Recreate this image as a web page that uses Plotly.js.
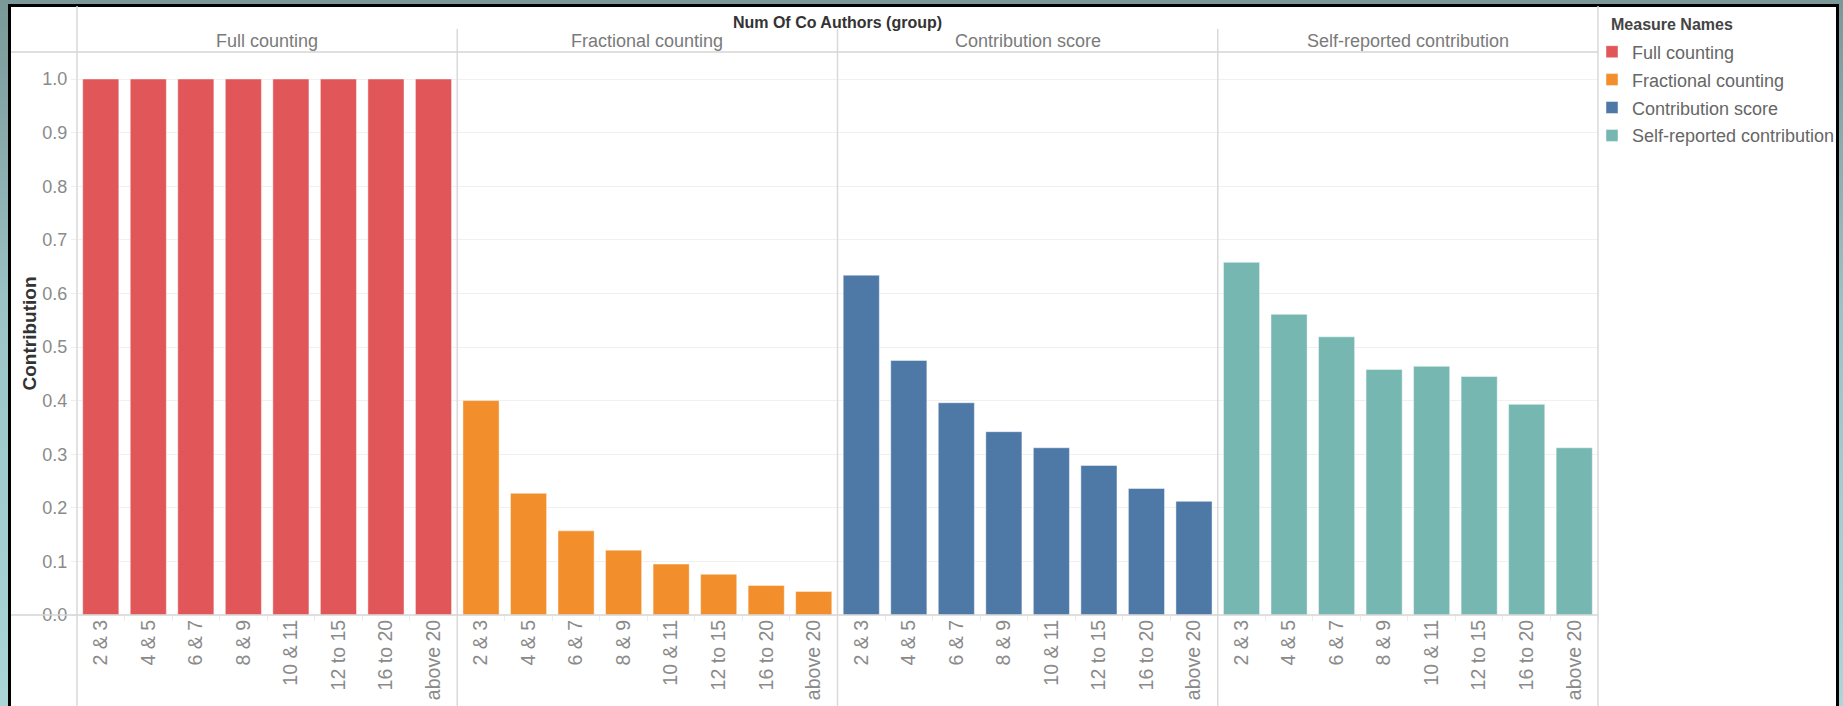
<!DOCTYPE html>
<html>
<head>
<meta charset="utf-8">
<script src="https://cdn.plot.ly/plotly-3.0.1.min.js"></script>
<style>
  html, body { margin: 0; padding: 0; }
  body {
    width: 1843px; height: 706px; overflow: hidden; position: relative;
    background: linear-gradient(to bottom, #7a9898 0%, #9cc4c6 45%, #aad6d8 100%);
  }
  #frame {
    position: absolute; left: 8px; top: 4px; width: 1831px; height: 740px;
    box-sizing: border-box; border: 3px solid #000; background: #fff;
  }
  #chart { position: absolute; left: 0; top: 0; width: 1843px; height: 706px; }
</style>
</head>
<body>
<div id="frame"></div>
<div id="chart"></div>
<script>
// Co-author group buckets shared by every panel
const groups = ['2 & 3', '4 & 5', '6 & 7', '8 & 9', '10 & 11', '12 to 15', '16 to 20', 'above 20'];

// Average credit per author under each counting method
const fullCounting       = [1.0, 1.0, 1.0, 1.0, 1.0, 1.0, 1.0, 1.0];
const fractionalCounting = [0.400, 0.227, 0.157, 0.121, 0.095, 0.076, 0.055, 0.044];
const contributionScore  = [0.634, 0.475, 0.396, 0.342, 0.312, 0.279, 0.236, 0.212];
const selfReported       = [0.658, 0.561, 0.519, 0.458, 0.464, 0.445, 0.393, 0.312];

const measureNames  = ['Full counting', 'Fractional counting', 'Contribution score', 'Self-reported contribution'];
const measureValues = [fullCounting, fractionalCounting, contributionScore, selfReported];
const measureColors = ['#e15759', '#f28e2b', '#4e79a7', '#76b7b2'];
const yTicks = [0.0, 0.1, 0.2, 0.3, 0.4, 0.5, 0.6, 0.7, 0.8, 0.9, 1.0];

const FONT = '"Liberation Sans", Arial, sans-serif';
const axisIds = ['x', 'x2', 'x3', 'x4'];

// plot-area geometry in pixels
const ML = 77, MR = 245, MT = 52, MB = 91.4, W = 1843, H = 706;
const pxW = W - ML - MR;
const pxH = H - MT - MB;
const px2x = p => (p - ML) / pxW;
const px2y = p => (H - MB - p) / pxH;

const traces = measureNames.map((name, i) => ({
  type: 'bar',
  name: name,
  legendgroup: 'g' + i,
  x: groups,
  y: measureValues[i],
  xaxis: axisIds[i],
  yaxis: 'y',
  marker: { color: measureColors[i], line: { color: 'rgba(255,255,255,0.45)', width: 1 } },
  hoverinfo: 'skip'
}));

const layout = {
  width: W,
  height: H,
  margin: { l: ML, r: MR, t: MT, b: MB, autoexpand: false },
  paper_bgcolor: 'rgba(0,0,0,0)',
  plot_bgcolor: 'rgba(0,0,0,0)',
  font: { family: FONT, color: '#777' },
  bargap: 0.24,
  showlegend: true,
  hovermode: false,
  title: {
    text: 'Num Of Co Authors (group)',
    x: 0.5, xref: 'paper', xanchor: 'center',
    y: 1 - 22 / H, yref: 'container', yanchor: 'middle',
    font: { family: FONT, size: 16, color: '#333', weight: 'bold' }
  },
  legend: {
    font: { family: FONT, size: 18, color: '#666' },
    x: px2x(1592), xanchor: 'left', xref: 'paper',
    y: px2y(33.5), yanchor: 'top', yref: 'paper',
    bgcolor: 'rgba(0,0,0,0)',
    borderwidth: 0,
    traceorder: 'grouped',
    tracegroupgap: 1.5
  },
  yaxis: {
    range: [0, 1.0504],
    tickvals: yTicks,
    tickformat: '.1f',
    showgrid: true,
    gridcolor: '#f0f0f0',
    gridwidth: 1,
    zeroline: false,
    ticks: 'outside', ticklen: 5, tickcolor: '#eeeeee',
    tickfont: { family: FONT, size: 18, color: '#8a8a8a' },
    title: { text: 'Contribution', standoff: 0, font: { family: FONT, size: 19, color: '#333', weight: 'bold' } },
    fixedrange: true
  },
  annotations: [{
    // legend heading
    text: 'Measure Names',
    xref: 'paper', yref: 'paper',
    x: px2x(1609), y: px2y(25),
    xanchor: 'left', yanchor: 'middle',
    showarrow: false,
    font: { family: FONT, size: 16, color: '#444', weight: 'bold' }
  }],
  shapes: []
};

axisIds.forEach((id, i) => {
  const key = id === 'x' ? 'xaxis' : 'xaxis' + id.slice(1);
  layout[key] = {
    domain: [i / 4, (i + 1) / 4],
    anchor: 'y',
    type: 'category',
    tickangle: -90,
    tickson: 'boundaries',
    ticks: 'outside', ticklen: 5, tickcolor: '#ebebeb',
    tickfont: { family: FONT, size: 19.5, color: '#8a8a8a' },
    showgrid: false,
    zeroline: false,
    showline: false,
    fixedrange: true
  };
  // panel header text
  layout.annotations.push({
    text: measureNames[i],
    xref: 'paper', yref: 'paper',
    x: (i + 0.5) / 4, y: px2y(41),
    xanchor: 'center', yanchor: 'middle',
    showarrow: false,
    font: { family: FONT, size: 18, color: '#7a7a7a' }
  });
});

const lineStyle = { color: '#d9d9d9', width: 1.5 };
// outer panel edges, full height
[0, 1].forEach(x => layout.shapes.push({
  type: 'line', xref: 'paper', yref: 'paper', x0: x, x1: x, y0: px2y(710), y1: px2y(6), line: lineStyle
}));
// separators between panels
[0.25, 0.5, 0.75].forEach(x => layout.shapes.push({
  type: 'line', xref: 'paper', yref: 'paper', x0: x, x1: x, y0: px2y(710), y1: px2y(29), line: lineStyle
}));
// header rule and baseline
[1, 0].forEach(y => layout.shapes.push({
  type: 'line', xref: 'paper', yref: 'paper', x0: px2x(11), x1: 1, y0: y, y1: y, line: { color: '#d4d4d4', width: 1.5 }
}));

Plotly.newPlot('chart', traces, layout, { displayModeBar: false, staticPlot: true });
</script>
</body>
</html>
